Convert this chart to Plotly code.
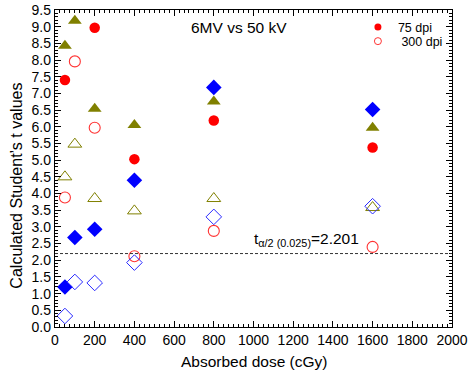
import plotly.graph_objects as go

dose = [50, 100, 200, 400, 800, 1600]

# 75 dpi (filled) series
red_filled_x = [50, 200, 400, 800, 1600]
red_filled_y = [7.40, 8.97, 5.03, 6.19, 5.38]
olive_filled_y = [8.43, 9.18, 6.54, 6.05, 6.76, 5.97]
blue_filled_y = [1.20, 2.68, 2.93, 4.40, 7.18, 6.52]

# 300 dpi (open) series
red_open_y = [3.88, 7.96, 5.97, 2.12, 2.88, 2.40]
olive_open_y = [4.50, 5.48, 3.85, 3.48, 3.85, 3.58]
blue_open_y = [0.33, 1.35, 1.32, 1.93, 3.30, 3.62]

t_crit = 2.201

RED = "#ff0000"
RED_OPEN = "#ff3333"
OLIVE = "#808000"
BLUE = "#0000ff"
BLUE_OPEN = "#2a2aff"
FONT = "Liberation Sans, Arial, sans-serif"
NARROW = "Liberation Sans Narrow, Arial Narrow, Liberation Sans, Arial, sans-serif"

fig = go.Figure()

def add(x, y, sym, color, size, lw=1.0):
    fig.add_trace(go.Scatter(
        x=x, y=y, mode="markers", showlegend=False, hoverinfo="skip",
        marker=dict(symbol=sym, color=color, size=size,
                    line=dict(color=color, width=lw)),
    ))

add(red_filled_x, red_filled_y, "circle", RED, 10.5, 0)
add(dose, red_open_y, "circle-open", RED_OPEN, 11, 1.1)
add(dose, olive_filled_y, "triangle-up", OLIVE, 12, 0)
add(dose, olive_open_y, "triangle-up-open", OLIVE, 12, 1.0)
add(dose, blue_filled_y, "diamond", BLUE, 12, 0)
add(dose, blue_open_y, "diamond-open", BLUE_OPEN, 12, 1.0)

# legend entries (two separate legends to control spacing)
fig.add_trace(go.Scatter(x=[None], y=[None], mode="markers", name="75 dpi",
                         marker=dict(symbol="circle", color=RED, size=7), legend="legend"))
fig.add_trace(go.Scatter(x=[None], y=[None], mode="markers", name="\u00a0300 dpi",
                         marker=dict(symbol="circle-open", color=RED_OPEN, size=7,
                                     line=dict(width=1)), legend="legend2"))

fig.add_shape(type="line", x0=0, x1=2000, y0=t_crit, y1=t_crit,
              xref="x", yref="y", line=dict(color="#333333", width=1, dash="3px,2px"))

fig.add_annotation(x=990, y=2.62, xref="x", yref="y", xanchor="left", yanchor="middle",
                   text="t<sub>α/2 (0.025)</sub>=2.201", showarrow=False,
                   font=dict(family=FONT, size=15.5, color="black"))
fig.add_annotation(x=0.4647, y=0.9448, xref="paper", yref="paper", xanchor="center", yanchor="middle",
                   text="6MV vs 50 kV", showarrow=False,
                   font=dict(family=FONT, size=15.5, color="black"))
fig.add_annotation(x=0.5, y=-0.1104, xref="paper", yref="paper", xanchor="center", yanchor="middle",
                   text="Absorbed dose (cGy)", showarrow=False,
                   font=dict(family=FONT, size=15.5, color="black"))
fig.add_annotation(x=-0.0957, y=0.446, xref="paper", yref="paper", xanchor="center", yanchor="middle",
                   text="Calculated Student’s t values", showarrow=False, textangle=-90,
                   font=dict(family=FONT, size=16, color="black"))

axis_common = dict(
    showgrid=False, zeroline=False, showline=True, linecolor="black", linewidth=1.2,
    ticks="inside", mirror="ticks", tickcolor="black", ticklen=6, tickwidth=1,
    automargin=False,
)

fig.update_xaxes(range=[0, 2000], dtick=200, tick0=0, ticklabeloverflow="allow",
                 tickfont=dict(family=NARROW, size=14, color="black"),
                 minor=dict(dtick=25, ticklen=3, ticks="inside", tickcolor="black"),
                 **axis_common)
fig.update_yaxes(range=[0, 9.5], dtick=0.5, tick0=0, tickformat=".1f", ticklabeloverflow="allow",
                 tickfont=dict(family=FONT, size=14, color="black"),
                 minor=dict(dtick=0.1, ticklen=3, ticks="inside", tickcolor="black"),
                 **axis_common)

legend_common = dict(xanchor="left", yanchor="middle", bgcolor="rgba(0,0,0,0)",
                     font=dict(family=FONT, size=12.5, color="black"),
                     itemsizing="trace", itemwidth=30, borderwidth=0)

fig.update_layout(
    width=468, height=376,
    margin=dict(l=55, r=16, t=10, b=49),
    paper_bgcolor="white", plot_bgcolor="white",
    font=dict(family=FONT, color="black"),
    hovermode=False,
    legend=dict(x=0.763, y=0.9448, **legend_common),
    legend2=dict(x=0.763, y=0.9006, **legend_common),
)

fig.write_html("out.html", config={"displayModeBar": False, "staticPlot": True},
               post_script="document.body.style.margin='0';")
